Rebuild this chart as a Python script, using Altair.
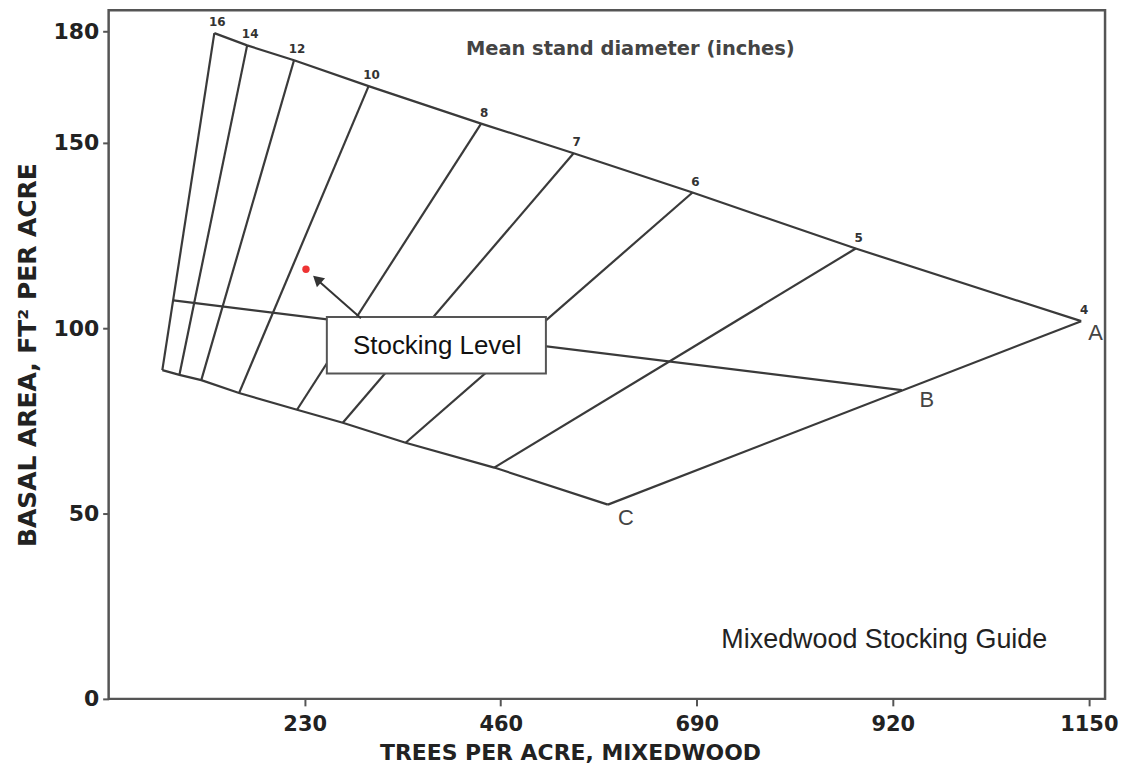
import altair as alt
import pandas as pd

# ---------------- data ----------------
diameters = ["16", "14", "12", "10", "8", "7", "6", "5", "4"]
# upper (A-line) end of each diameter line
top_tpa = [124, 162.5, 217.5, 305, 437, 545.5, 685, 876.5, 1141]
top_ba = [179.6, 176.3, 172.3, 165.3, 155.2, 147.2, 136.6, 121.5, 101.9]
# lower (C-line) end of each diameter line
bottom_tpa = [63, 83, 108.7, 153, 221, 274.7, 348.4, 452.4, 585.7]
bottom_ba = [88.7, 87.4, 86.0, 82.5, 78.0, 74.5, 69.1, 62.4, 52.4]
# B-line
b_tpa = [76, 930.6]
b_ba = [107.5, 83.3]

x_ticks = [230, 460, 690, 920, 1150]
y_ticks = [0, 50, 100, 150, 180]

point_tpa = [231.5]
point_ba = [115.9]

letters = ["A", "B", "C"]
letter_tpa = [1158, 960, 607]
letter_ba = [98.7, 80.6, 48.9]

# ---------------- tables ----------------
rows = []
for d, tx, ty, bx, by in zip(diameters, top_tpa, top_ba, bottom_tpa, bottom_ba):
    rows.append({"series": "d" + d, "idx": 0, "tpa": tx, "ba": ty})
    rows.append({"series": "d" + d, "idx": 1, "tpa": bx, "ba": by})
for i, (x, y) in enumerate(zip(top_tpa, top_ba)):
    rows.append({"series": "A-line", "idx": i, "tpa": x, "ba": y})
for i, (x, y) in enumerate(zip(bottom_tpa, bottom_ba)):
    rows.append({"series": "C-line", "idx": i, "tpa": x, "ba": y})
for i, (x, y) in enumerate(zip(b_tpa, b_ba)):
    rows.append({"series": "B-line", "idx": i, "tpa": x, "ba": y})
lines_df = pd.DataFrame(rows)

diam_df = pd.DataFrame({"tpa": top_tpa, "ba": top_ba, "label": diameters})
letters_df = pd.DataFrame({"tpa": letter_tpa, "ba": letter_ba, "label": letters})
point_df = pd.DataFrame({"tpa": point_tpa, "ba": point_ba})
arrow_df = pd.DataFrame({"tpa": [296], "ba": [102.7], "tpa2": [247], "ba2": [112.6]})
head_df = pd.DataFrame({"tpa": [244.5], "ba": [113.2]})
box_df = pd.DataFrame({"tpa": [256], "ba": [103.0], "tpa2": [513], "ba2": [87.8],
                       "label": ["Stocking Level"], "tx": [385.5], "ty": [95.2]})
notes_df = pd.DataFrame({"tpa": [612], "ba": [175.3], "label": ["Mean stand diameter (inches)"]})
guide_df = pd.DataFrame({"tpa": [910], "ba": [15.9], "label": ["Mixedwood Stocking Guide"]})

# ---------------- scales / axes ----------------
AXFONT = "DejaVu Sans"
FONT = "DejaVu Sans"
x_scale = alt.Scale(domain=[0, 1169], nice=False, zero=False)
y_scale = alt.Scale(domain=[0, 185.75], nice=False, zero=False)

x_axis = alt.Axis(values=x_ticks, format="d", title="TREES PER ACRE, MIXEDWOOD", grid=False, domain=False,
                  labelFont=AXFONT, labelFontWeight="bold", labelFontSize=21, labelColor="#222",
                  tickColor="#555", tickSize=7, tickWidth=2, labelPadding=8,
                  titleFont=AXFONT, titleFontWeight="bold", titleFontSize=22, titleColor="#222",
                  titlePadding=8, titleX=463)
y_axis = alt.Axis(values=y_ticks, format="d", title="BASAL AREA, FT² PER ACRE", grid=False, domain=False,
                  labelFont=AXFONT, labelFontWeight="bold", labelFontSize=22, labelColor="#222",
                  tickColor="#555", tickSize=6, tickWidth=2, labelPadding=4,
                  titleFont=AXFONT, titleFontWeight="bold", titleFontSize=25, titleColor="#222",
                  titleX=-81, titleBaseline="middle")


def X(field="tpa"):
    return alt.X(f"{field}:Q", scale=x_scale, axis=x_axis)


def Y(field="ba"):
    return alt.Y(f"{field}:Q", scale=y_scale, axis=y_axis)


LINE = "#3a3a3a"

lines = alt.Chart(lines_df).mark_line(color=LINE, strokeWidth=2.2).encode(
    x=X(), y=Y(), detail="series:N", order="idx:Q"
)

diam_text = alt.Chart(diam_df).mark_text(
    font=FONT, fontWeight="bold", fontSize=12, color="#333", dx=3, dy=-11
).encode(x=X(), y=Y(), text="label:N")

letter_text = alt.Chart(letters_df).mark_text(
    font="Liberation Sans", fontSize=22, color="#444"
).encode(x=X(), y=Y(), text="label:N")

arrow = alt.Chart(arrow_df).mark_rule(color="#333", strokeWidth=2).encode(
    x=X(), y=Y(), x2="tpa2:Q", y2="ba2:Q"
)
head = alt.Chart(head_df).mark_point(
    shape="triangle-up", filled=True, color="#333", size=150, angle=312, opacity=1
).encode(x=X(), y=Y())

red = alt.Chart(point_df).mark_circle(color="#ee3333", size=55, opacity=1).encode(x=X(), y=Y())

box = alt.Chart(box_df).mark_rect(fill="white", stroke="#555", strokeWidth=2).encode(
    x=X(), y=Y(), x2="tpa2:Q", y2="ba2:Q"
)
box_text = alt.Chart(box_df).mark_text(
    font="Liberation Sans", fontSize=26, color="#111"
).encode(x=X("tx"), y=Y("ty"), text="label:N")

note_text = alt.Chart(notes_df).mark_text(
    font=FONT, fontWeight="bold", fontSize=19.5, color="#444"
).encode(x=X(), y=Y(), text="label:N")

guide_text = alt.Chart(guide_df).mark_text(
    font="Liberation Sans", fontSize=27, color="#222"
).encode(x=X(), y=Y(), text="label:N")

chart = alt.layer(
    lines, diam_text, letter_text, box, box_text, arrow, head, red, note_text, guide_text
).properties(
    width=1000, height=691,
    background="white",
    autosize=alt.AutoSizeParams(type="none"),
    padding={"left": 101, "top": 1, "right": 14, "bottom": 66},
).configure_view(
    stroke="#555", strokeWidth=2.5
)

chart.save("out.html", embed_options={"renderer": "svg", "actions": False})
